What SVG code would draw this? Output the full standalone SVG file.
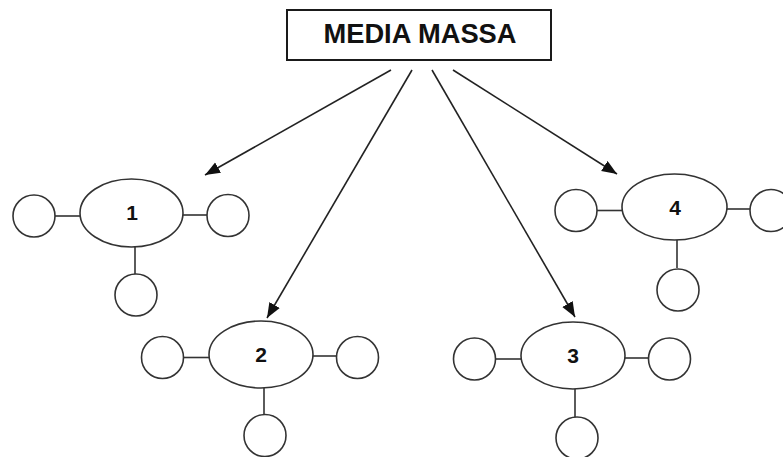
<svg xmlns="http://www.w3.org/2000/svg" width="783" height="457" viewBox="0 0 783 457">
  <style>
    .box { fill: #ffffff; stroke: #1a1a1a; stroke-width: 2; }
    .ell { fill: #ffffff; stroke: #333333; stroke-width: 1.6; }
    .sat { fill: #ffffff; stroke: #333333; stroke-width: 1.6; }
    .tie { stroke: #333333; stroke-width: 1.6; fill: none; }
    .arrow { stroke: #222222; stroke-width: 1.6; fill: none; marker-end: url(#head); }
    .title { font-family: "Liberation Sans", Arial, sans-serif; font-weight: bold; font-size: 27px; fill: #111111; text-anchor: middle; }
    .num { font-family: "Liberation Sans", Arial, sans-serif; font-weight: bold; font-size: 21px; fill: #111111; text-anchor: middle; }
  </style>
  <defs>
    <marker id="head" markerUnits="userSpaceOnUse" markerWidth="16" markerHeight="14" refX="15" refY="6" orient="auto">
      <path d="M0,0 L15,6 L0,12 Z" fill="#111111"/>
    </marker>
  </defs>
  <rect width="783" height="457" fill="#ffffff"/>

  <g id="media-massa">
    <rect class="box" x="287" y="10" width="264" height="50"/>
    <text class="title" x="420" y="43" textLength="193" lengthAdjust="spacingAndGlyphs">MEDIA MASSA</text>
  </g>

  <g id="connectors">
    <line class="arrow" x1="391" y1="70" x2="205" y2="175"/>
    <line class="arrow" x1="412" y1="70" x2="267" y2="318"/>
    <line class="arrow" x1="432" y1="70" x2="575" y2="317"/>
    <line class="arrow" x1="453" y1="70" x2="617" y2="174"/>
  </g>

  <g id="node-1">
    <line class="tie" x1="55" y1="216" x2="80" y2="216"/>
    <line class="tie" x1="183" y1="215" x2="207" y2="215"/>
    <line class="tie" x1="135" y1="247" x2="135" y2="274"/>
    <ellipse class="ell" cx="131.5" cy="213" rx="51.5" ry="34"/>
    <circle class="sat" cx="34" cy="216" r="21"/>
    <circle class="sat" cx="228" cy="215.5" r="21"/>
    <circle class="sat" cx="136" cy="295" r="21"/>
    <text class="num" x="132" y="220">1</text>
  </g>

  <g id="node-2">
    <line class="tie" x1="183" y1="357.5" x2="209" y2="357.5"/>
    <line class="tie" x1="313" y1="356" x2="337" y2="356"/>
    <line class="tie" x1="264" y1="388" x2="264" y2="415"/>
    <ellipse class="ell" cx="261" cy="354.5" rx="52" ry="33.5"/>
    <circle class="sat" cx="162.5" cy="357.5" r="21"/>
    <circle class="sat" cx="357.5" cy="357.5" r="21"/>
    <circle class="sat" cx="265" cy="435.5" r="21"/>
    <text class="num" x="261" y="362">2</text>
  </g>

  <g id="node-3">
    <line class="tie" x1="496" y1="359" x2="521" y2="359"/>
    <line class="tie" x1="625" y1="358" x2="648" y2="358"/>
    <line class="tie" x1="575" y1="389" x2="575" y2="418"/>
    <ellipse class="ell" cx="573" cy="355.5" rx="52" ry="33.5"/>
    <circle class="sat" cx="474.5" cy="359" r="21"/>
    <circle class="sat" cx="669.5" cy="359" r="21"/>
    <circle class="sat" cx="577" cy="438" r="21"/>
    <text class="num" x="573" y="363">3</text>
  </g>

  <g id="node-4">
    <line class="tie" x1="597" y1="210.5" x2="622" y2="210.5"/>
    <line class="tie" x1="727" y1="209" x2="750" y2="209"/>
    <line class="tie" x1="677" y1="240" x2="677" y2="268"/>
    <ellipse class="ell" cx="674.5" cy="207" rx="52.5" ry="33"/>
    <circle class="sat" cx="576" cy="210.5" r="21"/>
    <circle class="sat" cx="771" cy="210.5" r="21"/>
    <circle class="sat" cx="678" cy="290" r="21"/>
    <text class="num" x="675" y="215">4</text>
  </g>
</svg>
